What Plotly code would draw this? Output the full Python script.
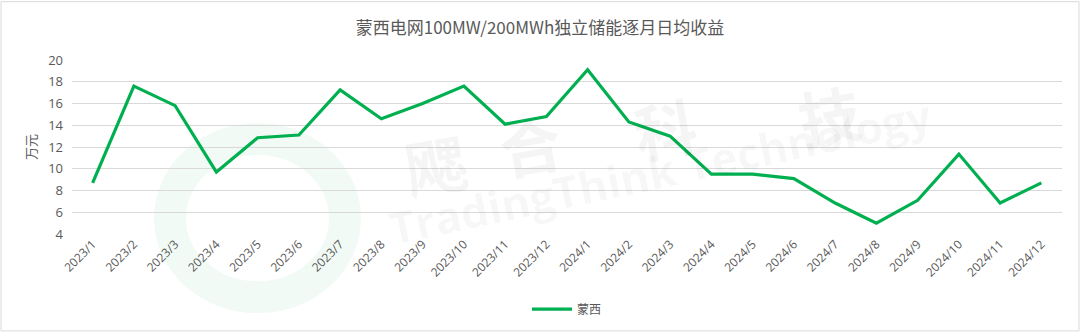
import plotly.graph_objects as go

months = ["2023/1", "2023/2", "2023/3", "2023/4", "2023/5", "2023/6", "2023/7", "2023/8",
          "2023/9", "2023/10", "2023/11", "2023/12", "2024/1", "2024/2", "2024/3", "2024/4",
          "2024/5", "2024/6", "2024/7", "2024/8", "2024/9", "2024/10", "2024/11", "2024/12"]
mengxi = [8.7, 17.6, 15.8, 9.7, 12.85, 13.1, 17.25, 14.6, 16.0, 17.6, 14.1, 14.8,
          19.1, 14.3, 13.0, 9.5, 9.5, 9.1, 6.85, 5.0, 7.1, 11.35, 6.85, 8.7]
y_ticks = [4, 6, 8, 10, 12, 14, 16, 18, 20]

W, H = 1080, 335
L, R, T, B = 72, 18, 60, 99
pw, ph = W - L - R, H - T - B

def px(x):
    return (x - L) / pw

def py(y):
    return (H - B - y) / ph

fig = go.Figure()
fig.add_trace(go.Scatter(
    x=months, y=mengxi, mode="lines", name="蒙西",
    line=dict(color="#00b050", width=3.2),
))

shapes = [
    dict(type="rect", xref="paper", yref="paper",
         x0=px(1), x1=px(W - 1), y0=py(H - 1), y1=py(1),
         line=dict(color="#d9d9d9", width=1), layer="below"),
    dict(type="circle", xref="paper", yref="paper",
         x0=px(170), x1=px(345), y0=py(300), y1=py(140),
         line=dict(color="rgba(0,160,70,0.055)", width=32), layer="below"),
]

wm = "rgba(0,0,0,0.04)"
annotations = [
    dict(text="<b>飔</b>", x=px(395), y=py(112), xref="paper", yref="paper", showarrow=False,
         font=dict(size=62, color=wm, family="Noto Sans CJK SC"), textangle=-10),
    dict(text="<b>合</b>", x=px(530), y=py(92), xref="paper", yref="paper", showarrow=False,
         font=dict(size=62, color=wm, family="Noto Sans CJK SC"), textangle=-10),
    dict(text="<b>科</b>", x=px(665), y=py(75), xref="paper", yref="paper", showarrow=False,
         font=dict(size=62, color=wm, family="Noto Sans CJK SC"), textangle=-10),
    dict(text="<b>技</b>", x=px(870), y=py(62), xref="paper", yref="paper", showarrow=False,
         font=dict(size=62, color=wm, family="Noto Sans CJK SC"), textangle=-10),
    dict(text="<b>TradingThink Technology</b>", x=px(660), y=py(172), xref="paper", yref="paper",
         showarrow=False, textangle=-12,
         font=dict(size=44, color=wm, family="Open Sans")),
]

fig.update_layout(
    width=W, height=H,
    margin=dict(l=L, r=R, t=T, b=B),
    paper_bgcolor="white", plot_bgcolor="rgba(0,0,0,0)",
    title=dict(text="蒙西电网100MW/200MWh独立储能逐月日均收益", x=0.5, xanchor="center",
               y=1 - 28 / H, yanchor="middle",
               font=dict(size=17, color="#595959", family="Noto Sans CJK SC")),
    font=dict(family="Noto Sans CJK SC", color="#595959"),
    showlegend=True,
    legend=dict(orientation="h", x=0.5, xanchor="center", y=py(312), yanchor="middle",
                font=dict(size=12, color="#595959"), itemwidth=40),
    shapes=shapes,
    annotations=annotations,
)
fig.update_xaxes(
    type="category", range=[-0.5, 23.5], tickangle=-45,
    tickfont=dict(size=12, color="#595959", family="Open Sans"),
    showgrid=False, showline=False, zeroline=False, ticks="",
)
fig.update_yaxes(
    range=[4, 20], tickvals=y_ticks, ticktext=[str(v) for v in y_ticks],
    tickfont=dict(size=13, color="#595959", family="Open Sans"),
    showgrid=True, gridcolor="#d9d9d9", gridwidth=1, zeroline=False, showline=False,
    ticks="", ticklabelstandoff=8,
    title=dict(text="万元", font=dict(size=13, color="#595959"), standoff=8),
)
fig.write_html("out.html")
